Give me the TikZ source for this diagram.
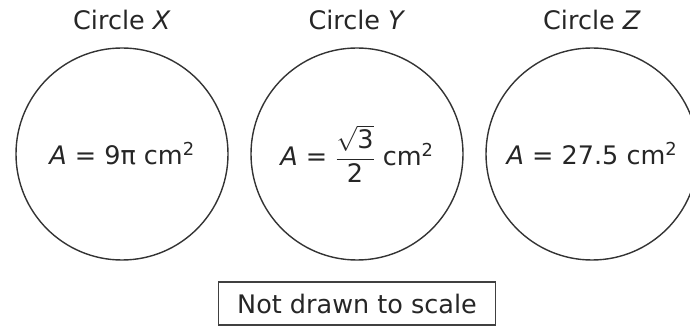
\documentclass[tikz,border=0pt]{standalone}
\usepackage{amsmath}
\usepackage{fontspec}
\setmainfont{DejaVu Sans}
\usetikzlibrary{positioning, calc}
\tikzset{
  ring/.style={circle, draw=black!80, line width=1.4pt, minimum size=212pt, inner sep=0pt, outer sep=0pt},
  ttl/.style={anchor=base, inner sep=0pt, text=black!85},
  note/.style={draw=black!75, line width=1.4pt, minimum width=277pt, minimum height=43pt, inner sep=0pt, outer sep=0pt, text=black!85}
}

\begin{document}
\begin{tikzpicture}[x=1pt, y=1pt, font=\fontsize{25.5}{30}\selectfont]
\useasboundingbox (0,0) rectangle (690,326);
\node[ring, text=black!85] (cx) at (122,172)
  {\textit{A} = 9π cm\textsuperscript{2}};
\node[ring, text=black!85] (cy) at (357,172)
  {\textit{A} = $\dfrac{\sqrt{\text{3}}}{\text{2}}$ cm\textsuperscript{2}};
\node[ring, text=black!85] (cz) at (592,172)
  {\textit{A} = 27.5 cm\textsuperscript{2}};
\node[ttl] (tx) at ($(cx.north)+(0,18)$) {Circle \textit{X}};
\node[ttl] (ty) at ($(cy.north)+(0,18)$) {Circle \textit{Y}};
\node[ttl] (tz) at ($(cz.north)+(0,18)$) {Circle \textit{Z}};
\node[note, below=22pt of cy] (scl) {Not drawn to scale};
\end{tikzpicture}
\end{document}
